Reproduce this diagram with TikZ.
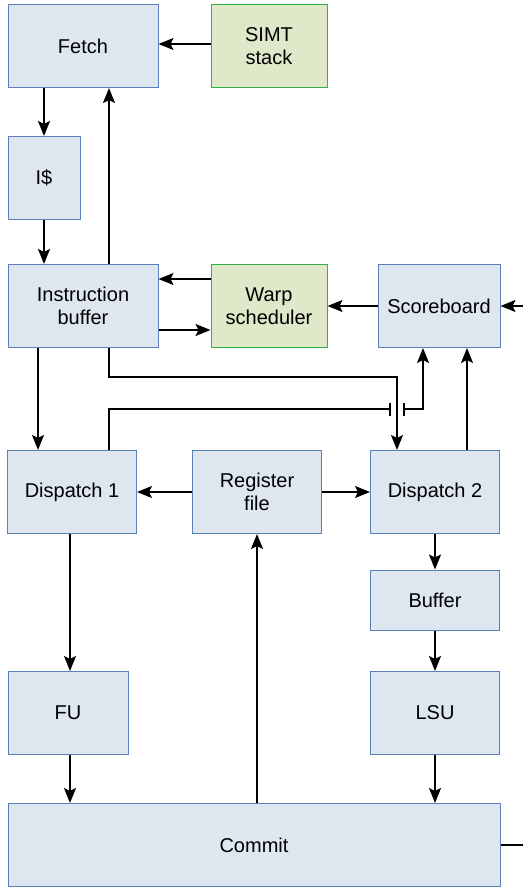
\documentclass[tikz,border=0pt]{standalone}
\usepackage{fontspec}
\setmainfont{Liberation Sans}
\usetikzlibrary{arrows.meta}
\definecolor{blkfill}{HTML}{DEE6F0}
\definecolor{blkline}{HTML}{5B7FB9}
\definecolor{grnfill}{HTML}{DFE8C8}
\definecolor{grnline}{HTML}{33B04A}

\begin{document}
\begin{tikzpicture}[x=1pt,y=-1pt,
  blk/.style={draw=blkline,fill=blkfill,line width=1pt,align=center,
    inner sep=0pt,font=\fontsize{20}{23}\selectfont},
  grn/.style={blk,draw=grnline,fill=grnfill},
  tip/.style={-{Stealth[length=15pt,width=12pt,inset=3pt]}},
  wire/.style={line width=2pt},
  arr/.style={wire,tip}]
\useasboundingbox (0,0) rectangle (523,888);
\node[blk,minimum width=150pt,minimum height=83pt] (fetch) at (83,46) {Fetch};
\node[grn,minimum width=116pt,minimum height=83pt] (simt) at (269,46) {SIMT\\stack};
\node[blk,minimum width=72pt,minimum height=83pt] (icache) at (44,178) {I\$};
\node[blk,minimum width=150pt,minimum height=83pt] (ibuf) at (83,306) {Instruction\\buffer};
\node[grn,minimum width=116pt,minimum height=83pt] (warp) at (269,306) {Warp\\scheduler};
\node[blk,minimum width=122pt,minimum height=83pt] (score) at (439,306) {Scoreboard};
\node[blk,minimum width=129pt,minimum height=83pt] (disp1) at (72,492) {Dispatch 1};
\node[blk,minimum width=129pt,minimum height=83pt] (regf) at (257,492) {Register\\file};
\node[blk,minimum width=129pt,minimum height=83pt] (disp2) at (435,492) {Dispatch 2};
\node[blk,minimum width=129pt,minimum height=60pt] (buf) at (435,600) {Buffer};
\node[blk,minimum width=120pt,minimum height=83pt] (fu) at (68,713) {FU};
\node[blk,minimum width=129pt,minimum height=83pt] (lsu) at (435,713) {LSU};
\node[blk,minimum width=492pt,minimum height=83pt] (commit) at (254,845) {Commit};
\coordinate (sbin) at (523,306);
\coordinate (cmout) at (523,845);
\coordinate (jumpl) at (391,409);
\coordinate (jumpr) at (403,409);
% front end
\draw[arr] ([yshift=2pt]simt.west) -- ([yshift=2pt]fetch.east);
\draw[arr] (fetch.south -| icache) -- (icache.north);
\draw[arr] (icache.south) -- (icache.south |- ibuf.north);
\draw[arr] ([xshift=26pt]ibuf.north) -- ([xshift=26pt]fetch.south);
\draw[arr] ([yshift=27pt]warp.west) -- ([yshift=27pt]ibuf.east);
\draw[arr] ([yshift=-24pt]ibuf.east) -- ([yshift=-24pt]warp.west);
\draw[arr] (score.west) -- (warp.east);
\draw[arr] (sbin) -- (score.east);
% issue
\draw[arr] ([xshift=-45pt]ibuf.south) -- ([xshift=-45pt]ibuf.south |- disp1.north);
\draw[arr] ([xshift=26pt]ibuf.south) |- ([xshift=-38pt]disp2.north |- 0,377) -- ([xshift=-38pt]disp2.north);
\draw[wire,-{Bar[width=13pt,line width=2pt]}] ([xshift=37pt]disp1.north) |- (jumpl);
\draw[wire,{Bar[width=13pt,line width=2pt]}-{Stealth[length=15pt,width=12pt,inset=3pt]}]
  (jumpr) -| ([xshift=-16pt]score.south);
\draw[arr] ([xshift=32pt]disp2.north) -- ([xshift=32pt]disp2.north |- score.south);
\draw[arr] (regf.west) -- (disp1.east);
\draw[arr] (regf.east) -- (disp2.west);
% back end
\draw[arr] ([xshift=2pt]fu.north |- disp1.south) -- ([xshift=2pt]fu.north);
\draw[arr] (disp2.south) -- (buf.north);
\draw[arr] (buf.south) -- (lsu.north);
\draw[arr] ([xshift=2pt]fu.south) -- ([xshift=2pt]fu.south |- commit.north);
\draw[arr] (lsu.south) -- (lsu.south |- commit.north);
\draw[arr] (regf.south |- commit.north) -- (regf.south);
\draw[wire] (commit.east) -- (cmout);
\end{tikzpicture}
\end{document}
